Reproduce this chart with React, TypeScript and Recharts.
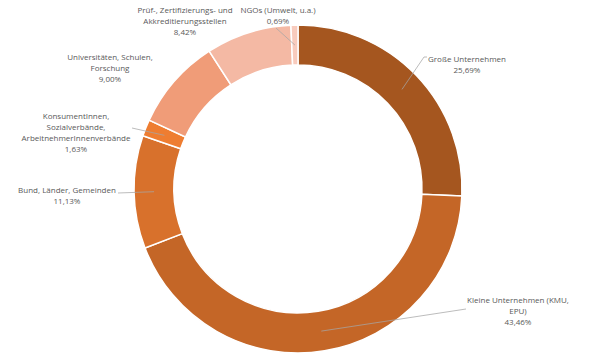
import React from "react";
import { PieChart, Pie, Cell } from "recharts";

const categories = [
  "Große Unternehmen",
  "Kleine Unternehmen (KMU, EPU)",
  "Bund, Länder, Gemeinden",
  "KonsumentInnen, Sozialverbände, ArbeitnehmerInnenverbände",
  "Universitäten, Schulen, Forschung",
  "Prüf-, Zertifizierungs- und Akkreditierungsstellen",
  "NGOs (Umwelt, u.a.)",
];
const values = [25.69, 43.46, 11.13, 1.63, 9.0, 8.42, 0.69];
const valueLabels = ["25,69%", "43,46%", "11,13%", "1,63%", "9,00%", "8,42%", "0,69%"];
const labelLines = [
  ["Große Unternehmen"],
  ["Kleine Unternehmen (KMU,", "EPU)"],
  ["Bund, Länder, Gemeinden"],
  ["KonsumentInnen,", "Sozialverbände,", "ArbeitnehmerInnenverbände"],
  ["Universitäten, Schulen,", "Forschung"],
  ["Prüf-, Zertifizierungs- und", "Akkreditierungsstellen"],
  ["NGOs (Umwelt, u.a.)"],
];
const colors = ["#A5561F", "#C46627", "#D8712C", "#EE7D31", "#F09C78", "#F4B9A4", "#F8CBBD"];

const data = categories.map((name, i) => ({ name, value: values[i] }));

// label placement relative to centre (layout only)
const labelPos = [
  { dx: 169, dy: -131 },
  { dx: 220, dy: 110 },
  { dx: -231, dy: 0 },
  { dx: -222, dy: -74 },
  { dx: -188, dy: -133 },
  { dx: -113, dy: -180 },
  { dx: -20, dy: -180 },
];
// leader line end points relative to centre (null = no line)
const leaderEnd: ({ x: number; y: number; hx?: number } | null)[] = [
  { x: 126, y: -132, hx: 129 },
  { x: 168, y: 120 },
  { x: -180, y: 4 },
  { x: -166, y: -61 },
  null,
  null,
  { x: -22, y: -161 },
];

const RADIAN = Math.PI / 180;
const LINE_H = 11;

const renderLabel = (props: any) => {
  const { cx, cy, midAngle, innerRadius, outerRadius, index } = props;
  const r = (innerRadius + outerRadius) / 2;
  const sx = cx + r * Math.cos(-midAngle * RADIAN);
  const sy = cy + r * Math.sin(-midAngle * RADIAN);
  const lp = labelPos[index];
  const le = leaderEnd[index];
  const lines = [...labelLines[index], valueLabels[index]];
  const tx = cx + lp.dx;
  const ty = cy + lp.dy;
  let path = "";
  if (le) {
    path = `M${sx},${sy}L${cx + le.x},${cy + le.y}`;
    if (le.hx !== undefined) path += `L${cx + le.hx},${cy + le.y}`;
  }
  return (
    <g key={`lbl-${index}`}>
      {le && <path d={path} stroke="#A6A6A6" strokeWidth={0.75} fill="none" />}
      <text
        x={tx}
        y={ty}
        textAnchor="middle"
        fill="#595959"
        fontSize={8}
        fontFamily="'Open Sans', sans-serif"
      >
        {lines.map((l, i) => (
          <tspan key={i} x={tx} y={ty + i * LINE_H} dominantBaseline="central">
            {l}
          </tspan>
        ))}
      </text>
    </g>
  );
};

export default function App() {
  return (
    <div style={{ position: "absolute", left: 0, top: 0, width: 605, height: 361, background: "#fff" }}>
      <PieChart width={605} height={361} margin={{ top: 0, right: 0, bottom: 0, left: 0 }}>
        <Pie
          data={data}
          dataKey="value"
          nameKey="name"
          cx={298}
          cy={189}
          innerRadius={124}
          outerRadius={164}
          startAngle={90}
          endAngle={-270}
          stroke="#FFFFFF"
          strokeWidth={1.5}
          label={renderLabel}
          labelLine={false}
          isAnimationActive={false}
        >
          {data.map((d, i) => (
            <Cell key={d.name} fill={colors[i]} />
          ))}
        </Pie>
      </PieChart>
    </div>
  );
}
